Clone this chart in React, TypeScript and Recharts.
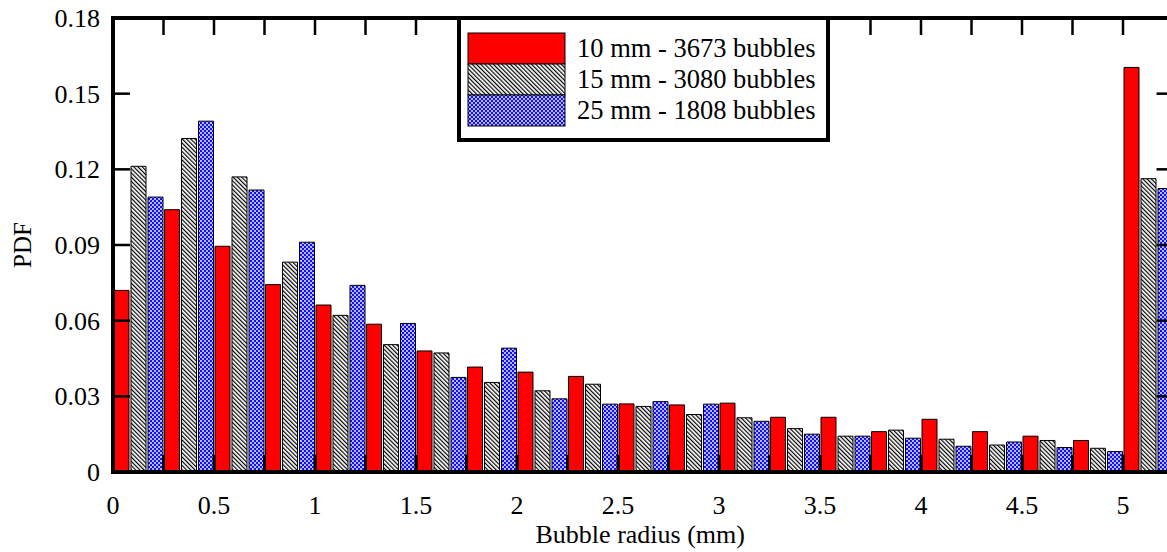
import React from 'react';
import { BarChart, Bar, XAxis, YAxis, Label } from 'recharts';

// ---- data ----
const bins = [0, 0.25, 0.5, 0.75, 1, 1.25, 1.5, 1.75, 2, 2.25, 2.5, 2.75, 3, 3.25, 3.5, 3.75, 4, 4.25, 4.5, 4.75, 5];
const pdf10 = [0.072, 0.104, 0.0895, 0.0743, 0.0662, 0.0586, 0.048, 0.0416, 0.0396, 0.0379, 0.027, 0.0266, 0.0273, 0.0217, 0.0217, 0.016, 0.0209, 0.016, 0.0142, 0.0125, 0.1604];
const pdf15 = [0.1212, 0.1322, 0.117, 0.0832, 0.0621, 0.0505, 0.0472, 0.0355, 0.0322, 0.0348, 0.026, 0.0228, 0.0215, 0.0172, 0.0142, 0.0166, 0.013, 0.0107, 0.0125, 0.0094, 0.1163];
const pdf25 = [0.109, 0.1391, 0.1118, 0.0911, 0.074, 0.0589, 0.0375, 0.0491, 0.029, 0.0269, 0.0279, 0.0269, 0.0201, 0.015, 0.0142, 0.0134, 0.0102, 0.0119, 0.0097, 0.0081, 0.1124];
const seriesKeys = ['d10', 'd15', 'd25'];
const seriesNames = ['10 mm - 3673 bubbles', '15 mm - 3080 bubbles', '25 mm - 1808 bubbles'];
const yTicks = [0, 0.03, 0.06, 0.09, 0.12, 0.15, 0.18];
const yTickLabels = ['0', '0.03', '0.06', '0.09', '0.12', '0.15', '0.18'];
const xTicks = [0, 0.25, 0.5, 0.75, 1, 1.25, 1.5, 1.75, 2, 2.25, 2.5, 2.75, 3, 3.25, 3.5, 3.75, 4, 4.25, 4.5, 4.75, 5, 5.25];
const xLabelTicks = [0, 0.5, 1, 1.5, 2, 2.5, 3, 3.5, 4, 4.5, 5];
const xDomain: [number, number] = [0, 5.25];
const yDomain: [number, number] = [0, 0.18];

const data = bins.map((b, i) => ({ bin: b, d10: pdf10[i], d15: pdf15[i], d25: pdf25[i] }));

const FONT = '"Liberation Serif", "Times New Roman", serif';
const fills: Record<string, string> = { d10: '#ff0000', d15: 'url(#hatch15)', d25: 'url(#cross25)' };
const axisLineStyle = { stroke: '#000', strokeWidth: 4, strokeLinecap: 'square' as const };

const BottomTick = (props: any) => {
  const { x, y, payload } = props;
  const v = payload.value;
  const labelled = xLabelTicks.some((t) => Math.abs(t - v) < 1e-9);
  return (
    <g>
      <rect x={x - 1.5} y={y - 17} width={3} height={17} fill="#000" />
      {labelled && (
        <text x={x} y={y + 42} textAnchor="middle" fontSize={26} fontFamily={FONT} fill="#000">
          {String(v)}
        </text>
      )}
    </g>
  );
};

const TopTick = (props: any) => <rect x={props.x - 1.25} y={props.y} width={2.5} height={17} fill="#000" />;
const RightTick = (props: any) => <rect x={props.x - 17} y={props.y - 1.25} width={17} height={2.5} fill="#000" />;

const LeftTick = (props: any) => {
  const { x, y, payload } = props;
  const idx = yTicks.findIndex((t) => Math.abs(t - payload.value) < 1e-9);
  return (
    <g>
      <rect x={x} y={y - 1.25} width={17} height={2.5} fill="#000" />
      <text x={x - 13} y={y + 9} textAnchor="end" fontSize={26} fontFamily={FONT} fill="#000">
        {idx >= 0 ? yTickLabels[idx] : String(payload.value)}
      </text>
    </g>
  );
};

const LegendOverlay = () => (
  <svg width={373} height={126} style={{ position: 'absolute', left: 457, top: 16, display: 'block' }}>
    <rect x={2} y={2} width={369} height={122} fill="#fff" stroke="#000" strokeWidth={4} />
    {seriesKeys.map((k, i) => (
      <g key={k}>
        <rect x={11} y={17 + i * 31} width={97} height={31} fill={fills[k]} stroke="#000" strokeWidth={1} />
        <text x={120} y={41 + i * 31} fontSize={26.5} fontFamily={FONT} fill="#000">
          {seriesNames[i]}
        </text>
      </g>
    ))}
  </svg>
);

const PdfOverlay = () => (
  <svg width={44} height={454} style={{ position: 'absolute', left: 0, top: 18, display: 'block' }}>
    <text x={22} y={227} transform="rotate(-90, 22, 227)" textAnchor="middle" dominantBaseline="central" fontSize={25} fontFamily={FONT} fill="#000">
      PDF
    </text>
  </svg>
);

export default function App() {
  return (
    <div style={{ position: 'absolute', left: 0, top: 0, width: 1167, height: 552, overflow: 'hidden', background: '#fff', fontFamily: FONT }}>
      <svg width={0} height={0} style={{ position: 'absolute' }}>
        <defs>
          <pattern id="hatch15" patternUnits="userSpaceOnUse" width={3} height={3} patternTransform="rotate(-45)">
            <rect x={0} y={0} width={3} height={3} fill="#fff" />
            <rect x={0} y={0} width={1.2} height={3} fill="#000" />
          </pattern>
          <pattern id="cross25" patternUnits="userSpaceOnUse" width={4} height={4}>
            <rect x={0} y={0} width={4} height={4} fill="#1010ff" />
            <circle cx={1} cy={1} r={0.95} fill="#fff" />
            <circle cx={3} cy={3} r={0.95} fill="#fff" />
          </pattern>
        </defs>
      </svg>
      <BarChart width={1180} height={552} data={data} margin={{ top: 17, right: 5.5, bottom: 0, left: 0 }} barCategoryGap={1} barGap={2}>
        <XAxis xAxisId="cat" dataKey="bin" type="category" hide height={0} />
        <XAxis xAxisId="num" dataKey="bin" type="number" domain={xDomain} allowDataOverflow ticks={xTicks} interval={0} height={80}
          tickSize={0} tickMargin={0} tickLine={false} tick={<BottomTick />} axisLine={axisLineStyle}>
          <Label value="Bubble radius (mm)" position="insideBottom" offset={9} dx={-3} fontSize={26} fontFamily={FONT} fill="#000" />
        </XAxis>
        <XAxis xAxisId="top" dataKey="bin" orientation="top" type="number" domain={xDomain} allowDataOverflow ticks={xTicks} interval={0} height={1}
          tickSize={0} tickMargin={0} tickLine={false} tick={<TopTick />} axisLine={axisLineStyle} />
        <YAxis yAxisId="left" type="number" domain={yDomain} allowDataOverflow ticks={yTicks} interval={0} width={113}
          tickSize={0} tickMargin={0} tickLine={false} tick={<LeftTick />} axisLine={axisLineStyle} />
        <YAxis yAxisId="right" dataKey="d10" orientation="right" type="number" domain={yDomain} allowDataOverflow ticks={yTicks} interval={0} width={1}
          tickSize={0} tickMargin={0} tickLine={false} tick={<RightTick />} axisLine={axisLineStyle} />
        <Bar xAxisId="cat" yAxisId="left" dataKey="d10" name={seriesNames[0]} fill={fills.d10} stroke="#000" strokeWidth={1} isAnimationActive={false} />
        <Bar xAxisId="cat" yAxisId="left" dataKey="d15" name={seriesNames[1]} fill={fills.d15} stroke="#000" strokeWidth={1} isAnimationActive={false} />
        <Bar xAxisId="cat" yAxisId="left" dataKey="d25" name={seriesNames[2]} fill={fills.d25} stroke="#000" strokeWidth={1} isAnimationActive={false} />
      </BarChart>
      <LegendOverlay />
      <PdfOverlay />
    </div>
  );
}
